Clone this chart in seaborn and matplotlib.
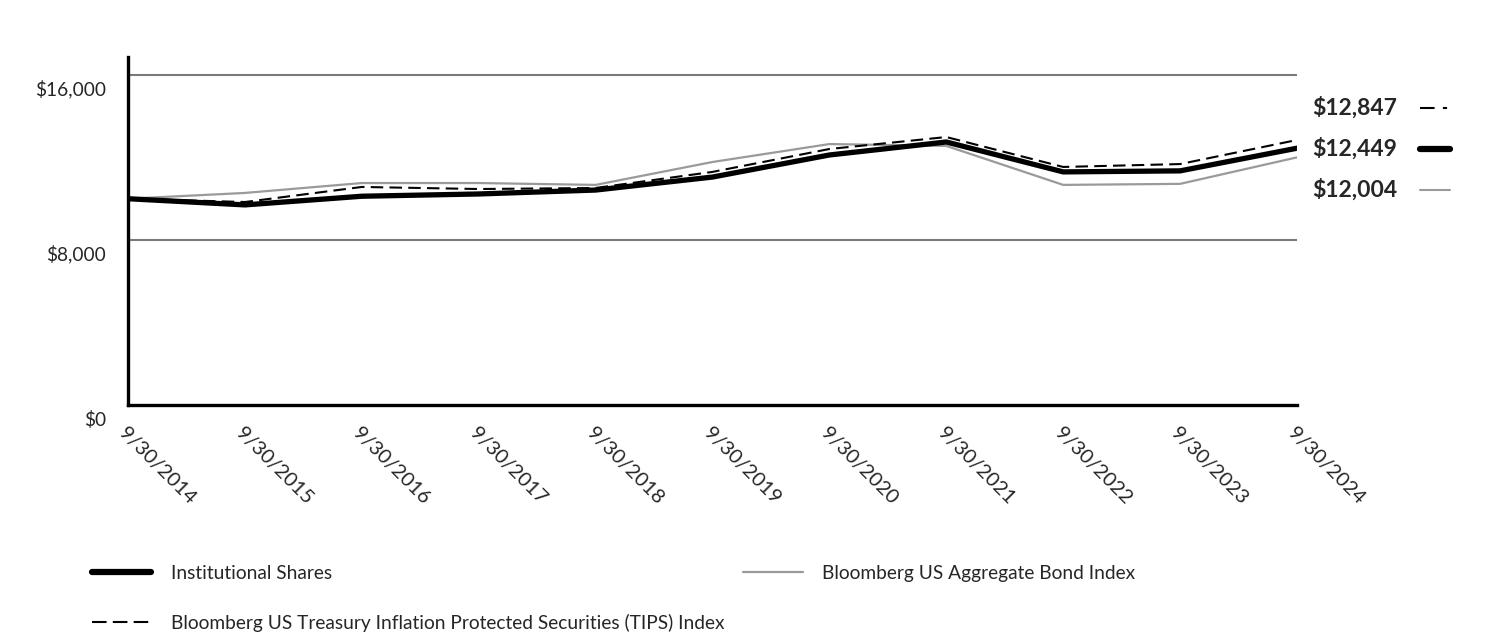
import matplotlib
matplotlib.use("Agg")
import matplotlib.pyplot as plt
import matplotlib.transforms as mtransforms
from matplotlib.lines import Line2D
import numpy as np
import pandas as pd
import seaborn as sns

dates = ["9/30/2014", "9/30/2015", "9/30/2016", "9/30/2017", "9/30/2018", "9/30/2019",
         "9/30/2020", "9/30/2021", "9/30/2022", "9/30/2023", "9/30/2024"]
institutional = [10000, 9700, 10120, 10230, 10420, 11050, 12120, 12750, 11300, 11350, 12449]
tips_index = [10000, 9840, 10570, 10470, 10520, 11300, 12410, 12990, 11540, 11680, 12847]
agg_bond = [10000, 10280, 10760, 10760, 10670, 11780, 12650, 12560, 10670, 10720, 12004]

series_names = ["Institutional Shares",
                "Bloomberg US Treasury Inflation Protected Securities (TIPS) Index",
                "Bloomberg US Aggregate Bond Index"]
end_labels = ["$12,847", "$12,449", "$12,004"]

sns.set_theme(style="white")
plt.rcParams["font.family"] = ["Lato", "DejaVu Sans"]

fig = plt.figure(figsize=(15.12, 6.36), dpi=100)
ax = fig.add_axes([128 / 1512, 1 - 405 / 636, (1297 - 128) / 1512, (405 - 57) / 636])

x = np.arange(len(dates))
df = pd.DataFrame({"x": x, "inst": institutional, "tips": tips_index, "agg": agg_bond})

for v in (8000, 16000):
    ax.axhline(v, color="#7a7a7a", lw=1.5, zorder=0)

sns.lineplot(data=df, x="x", y="agg", color="#9a9a9a", lw=1.6, ax=ax, zorder=2)
sns.lineplot(data=df, x="x", y="inst", color="black", lw=3.8, ax=ax, zorder=3)
sns.lineplot(data=df, x="x", y="tips", color="black", lw=1.5, ax=ax, zorder=4,
             linestyle=(0, (6, 3)))

ax.set_xlim(0, len(dates) - 1)
ax.set_ylim(0, 16870)
ax.set_xlabel("")
ax.set_ylabel("")
ax.set_xticks(x)
ax.set_xticklabels(dates, rotation=-45, ha="left", va="top", rotation_mode="anchor", fontsize=14.6)
ax.set_yticks([0, 8000, 16000])
ax.set_yticklabels(["$0", "$8,000", "$16,000"], fontsize=13.8)
ax.tick_params(axis="both", length=0)
ax.tick_params(axis="x", pad=14)
ax.tick_params(axis="y", pad=16)
offset = mtransforms.ScaledTranslation(0, -13 / 100, fig.dpi_scale_trans)
for lab in ax.get_yticklabels():
    lab.set_transform(lab.get_transform() + offset)

for side in ("top", "right"):
    ax.spines[side].set_visible(False)
for side in ("left", "bottom"):
    ax.spines[side].set_color("black")
    ax.spines[side].set_linewidth(2.4)

# value labels at the right with line samples
label_y = [108, 149, 190]
sample_styles = [dict(color="black", lw=1.5, linestyle=(0, (7, 4, 2, 4))),
                 dict(color="black", lw=4.5),
                 dict(color="#9a9a9a", lw=1.5)]
for txt, yy, st in zip(end_labels, label_y, sample_styles):
    fy = 1 - yy / 636
    fig.text(1397 / 1512, fy, txt, ha="right", va="center", fontsize=16.5, fontweight="bold")
    fig.add_artist(Line2D([1420 / 1512, 1450 / 1512], [fy, fy], transform=fig.transFigure, **st))

handles = [Line2D([], [], color="black", lw=4.5),
           Line2D([], [], color="black", lw=1.5, linestyle=(0, (7, 3))),
           Line2D([], [], color="#9a9a9a", lw=1.6)]
fig.legend(handles, series_names, loc="upper left", bbox_to_anchor=(92 / 1512, 1 - 565 / 636),
           ncol=2, frameon=False, fontsize=13.8, handlelength=3.1, handletextpad=1.0,
           columnspacing=1.0, labelspacing=1.65, borderpad=0, borderaxespad=0)

fig.savefig("out.png", dpi=100)
